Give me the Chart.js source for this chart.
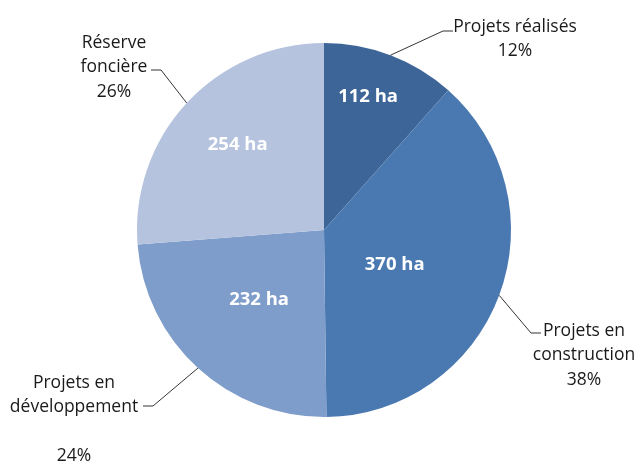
<!DOCTYPE html>
<html>
<head>
    <title>Répartition des surfaces</title>
    <script src="https://cdn.jsdelivr.net/npm/chart.js"></script>
    <style>
        html, body { margin: 0; padding: 0; background: #fff; }
        .chart-box { width: 638px; height: 462px; position: relative; }
    </style>
</head>
<body>
    <div class="chart-box">
        <canvas id="pieChart"></canvas>
    </div>

    <script>
        // données
        const categories = ['Projets réalisés', 'Projets en construction', 'Projets en développement', 'Réserve foncière'];
        const surfaces = [112, 370, 232, 254];           // en ha
        const percents = ['12%', '38%', '24%', '26%'];
        const sliceColors = ['#3e6598', '#4a79b2', '#7f9dca', '#b5c3de'];

        // lignes de texte des étiquettes extérieures ('' = ligne vide)
        const outerLines = [
            ['Projets réalisés', percents[0]],
            ['Projets en', 'construction', percents[1]],
            ['Projets en', 'développement', '', percents[2]],
            ['Réserve', 'foncière', percents[3]]
        ];

        // placement des étiquettes (px du canvas) : centre du texte, 1re ligne, coude du trait
        const outerPlace = [
            { cx: 515, y: 27, lx: 443, ly: 31, side: 'L' },
            { cx: 584, y: 331, lx: 531, ly: 333, side: 'L' },
            { cx: 74, y: 383, lx: 153, ly: 406, side: 'R' },
            { cx: 114, y: 43, lx: 161, ly: 70, side: 'R' }
        ];
        // étiquettes intérieures : décalage d'angle (degrés) et fraction du rayon
        const innerPlace = [
            { dAng: -2.5, frac: 0.75 },
            { dAng: 5.4, frac: 0.42 },
            { dAng: 0.5, frac: 0.51 },
            { dAng: 2, frac: 0.65 }
        ];

        const labelFont = '17.5px "Open Sans", sans-serif';
        const valueFont = 'bold 18.5px "Open Sans", sans-serif';

        const labelPlugin = {
            id: 'pieLabels',
            afterDatasetsDraw(chart) {
                const ctx = chart.ctx;
                const arcs = chart.getDatasetMeta(0).data;
                ctx.save();
                arcs.forEach((arc, i) => {
                    const p = arc.getProps(['x', 'y', 'startAngle', 'endAngle', 'outerRadius'], true);
                    const mid = (p.startAngle + p.endAngle) / 2;

                    // valeur en ha dans la part
                    const a = mid + innerPlace[i].dAng * Math.PI / 180;
                    const r = p.outerRadius * innerPlace[i].frac;
                    ctx.font = valueFont;
                    ctx.fillStyle = '#ffffff';
                    ctx.textAlign = 'center';
                    ctx.textBaseline = 'middle';
                    ctx.fillText(surfaces[i] + ' ha', p.x + Math.cos(a) * r, p.y + Math.sin(a) * r);

                    // trait de rappel
                    const o = outerPlace[i];
                    const sx = p.x + Math.cos(mid) * p.outerRadius;
                    const sy = p.y + Math.sin(mid) * p.outerRadius;
                    ctx.strokeStyle = '#333333';
                    ctx.lineWidth = 1;
                    ctx.beginPath();
                    ctx.moveTo(sx, sy);
                    ctx.lineTo(o.lx, o.ly);
                    ctx.lineTo(o.side === 'L' ? o.lx + 10 : o.lx - 10, o.ly);
                    ctx.stroke();

                    // texte extérieur
                    ctx.font = labelFont;
                    ctx.fillStyle = '#1a1a1a';
                    outerLines[i].forEach((line, k) => {
                        ctx.fillText(line, o.cx, o.y + k * 24.5);
                    });
                });
                ctx.restore();
            }
        };

        document.addEventListener('DOMContentLoaded', function() {
            const ctx = document.getElementById('pieChart').getContext('2d');
            new Chart(ctx, {
                type: 'pie',
                data: {
                    labels: categories,
                    datasets: [{
                        data: surfaces,
                        backgroundColor: sliceColors,
                        borderWidth: 0
                    }]
                },
                options: {
                    responsive: true,
                    maintainAspectRatio: false,
                    animation: false,
                    layout: {
                        padding: { left: 137, right: 127, top: 43, bottom: 45 }
                    },
                    plugins: {
                        legend: { display: false },
                        tooltip: { enabled: false }
                    }
                },
                plugins: [labelPlugin]
            });
        });
    </script>
</body>
</html>
